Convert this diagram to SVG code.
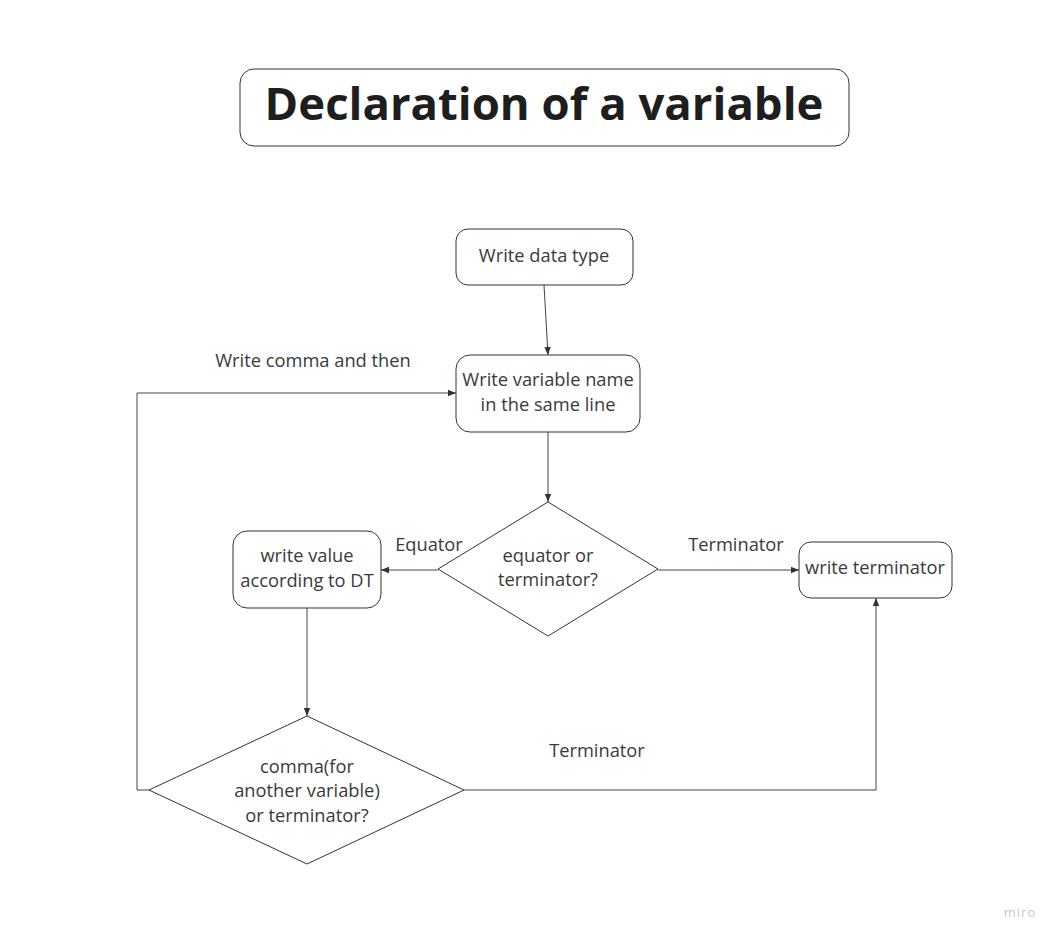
<svg xmlns="http://www.w3.org/2000/svg" width="1062" height="941" viewBox="0 0 1062 941">
<style>
.box{fill:#fff;stroke:#333;stroke-width:1}
.t{font-family:"Open Sans","Noto Sans",sans-serif;font-size:18.3px;fill:#3a3a3a;text-anchor:middle}
.c{fill:none;stroke:#444;stroke-width:1}
</style>
<defs>
<marker id="a" viewBox="0 0 10 10" refX="10" refY="5" markerWidth="8" markerHeight="8" markerUnits="userSpaceOnUse" orient="auto">
<path d="M0,1 L10,5 L0,9 Z" fill="#333"/>
</marker>
</defs>
<rect width="1062" height="941" fill="#fff"/>
<g id="title">
<rect class="box" x="240" y="69" width="609" height="77" rx="14"/>
<text x="544" y="120" style="font-family:'Open Sans','Noto Sans',sans-serif;font-weight:700;font-size:45.5px;fill:#1e1e1e;text-anchor:middle">Declaration of a variable</text>
</g>
<g id="connectors">
<path class="c" d="M544,285 L548,355" marker-end="url(#a)"/>
<path class="c" d="M548,432 L548,502" marker-end="url(#a)"/>
<path class="c" d="M438,570 L381,570" marker-end="url(#a)"/>
<path class="c" d="M658,570 L799,570" marker-end="url(#a)"/>
<path class="c" d="M307,608 L307,716" marker-end="url(#a)"/>
<path class="c" d="M464,790 L876,790 L876,598" marker-end="url(#a)"/>
<path class="c" d="M149,790 L137,790 L137,393 L456,393" marker-end="url(#a)"/>
<text class="t" x="313" y="367">Write comma and then</text>
<text class="t" x="429" y="551">Equator</text>
<text class="t" x="736" y="551">Terminator</text>
<text class="t" x="597" y="757">Terminator</text>
</g>
<g id="n1">
<rect class="box" x="456" y="229" width="177" height="56" rx="12"/>
<text class="t" x="544" y="262">Write data type</text>
</g>
<g id="n2">
<rect class="box" x="456" y="355" width="184" height="77" rx="14"/>
<text class="t" x="548" y="386">Write variable name</text>
<text class="t" x="548" y="411">in the same line</text>
</g>
<g id="d1">
<path class="box" d="M548,502 L658,569 L548,636 L438,569 Z"/>
<text class="t" x="548" y="562">equator or</text>
<text class="t" x="548" y="586">terminator?</text>
</g>
<g id="n3">
<rect class="box" x="233" y="531" width="148" height="77" rx="14"/>
<text class="t" x="307" y="562">write value</text>
<text class="t" x="307" y="587">according to DT</text>
</g>
<g id="n4">
<rect class="box" x="799" y="542" width="153" height="56" rx="12"/>
<text class="t" x="875" y="574">write terminator</text>
</g>
<g id="d2">
<path class="box" d="M307,716 L464,790 L307,864 L149,790 Z"/>
<text class="t" x="307" y="773">comma(for</text>
<text class="t" x="307" y="797">another variable)</text>
<text class="t" x="307" y="822">or terminator?</text>
</g>
<text x="1020" y="917" style="font-family:'Open Sans','Noto Sans',sans-serif;font-size:13px;fill:#c8c8d0;text-anchor:middle;letter-spacing:1px">miro</text>
</svg>
